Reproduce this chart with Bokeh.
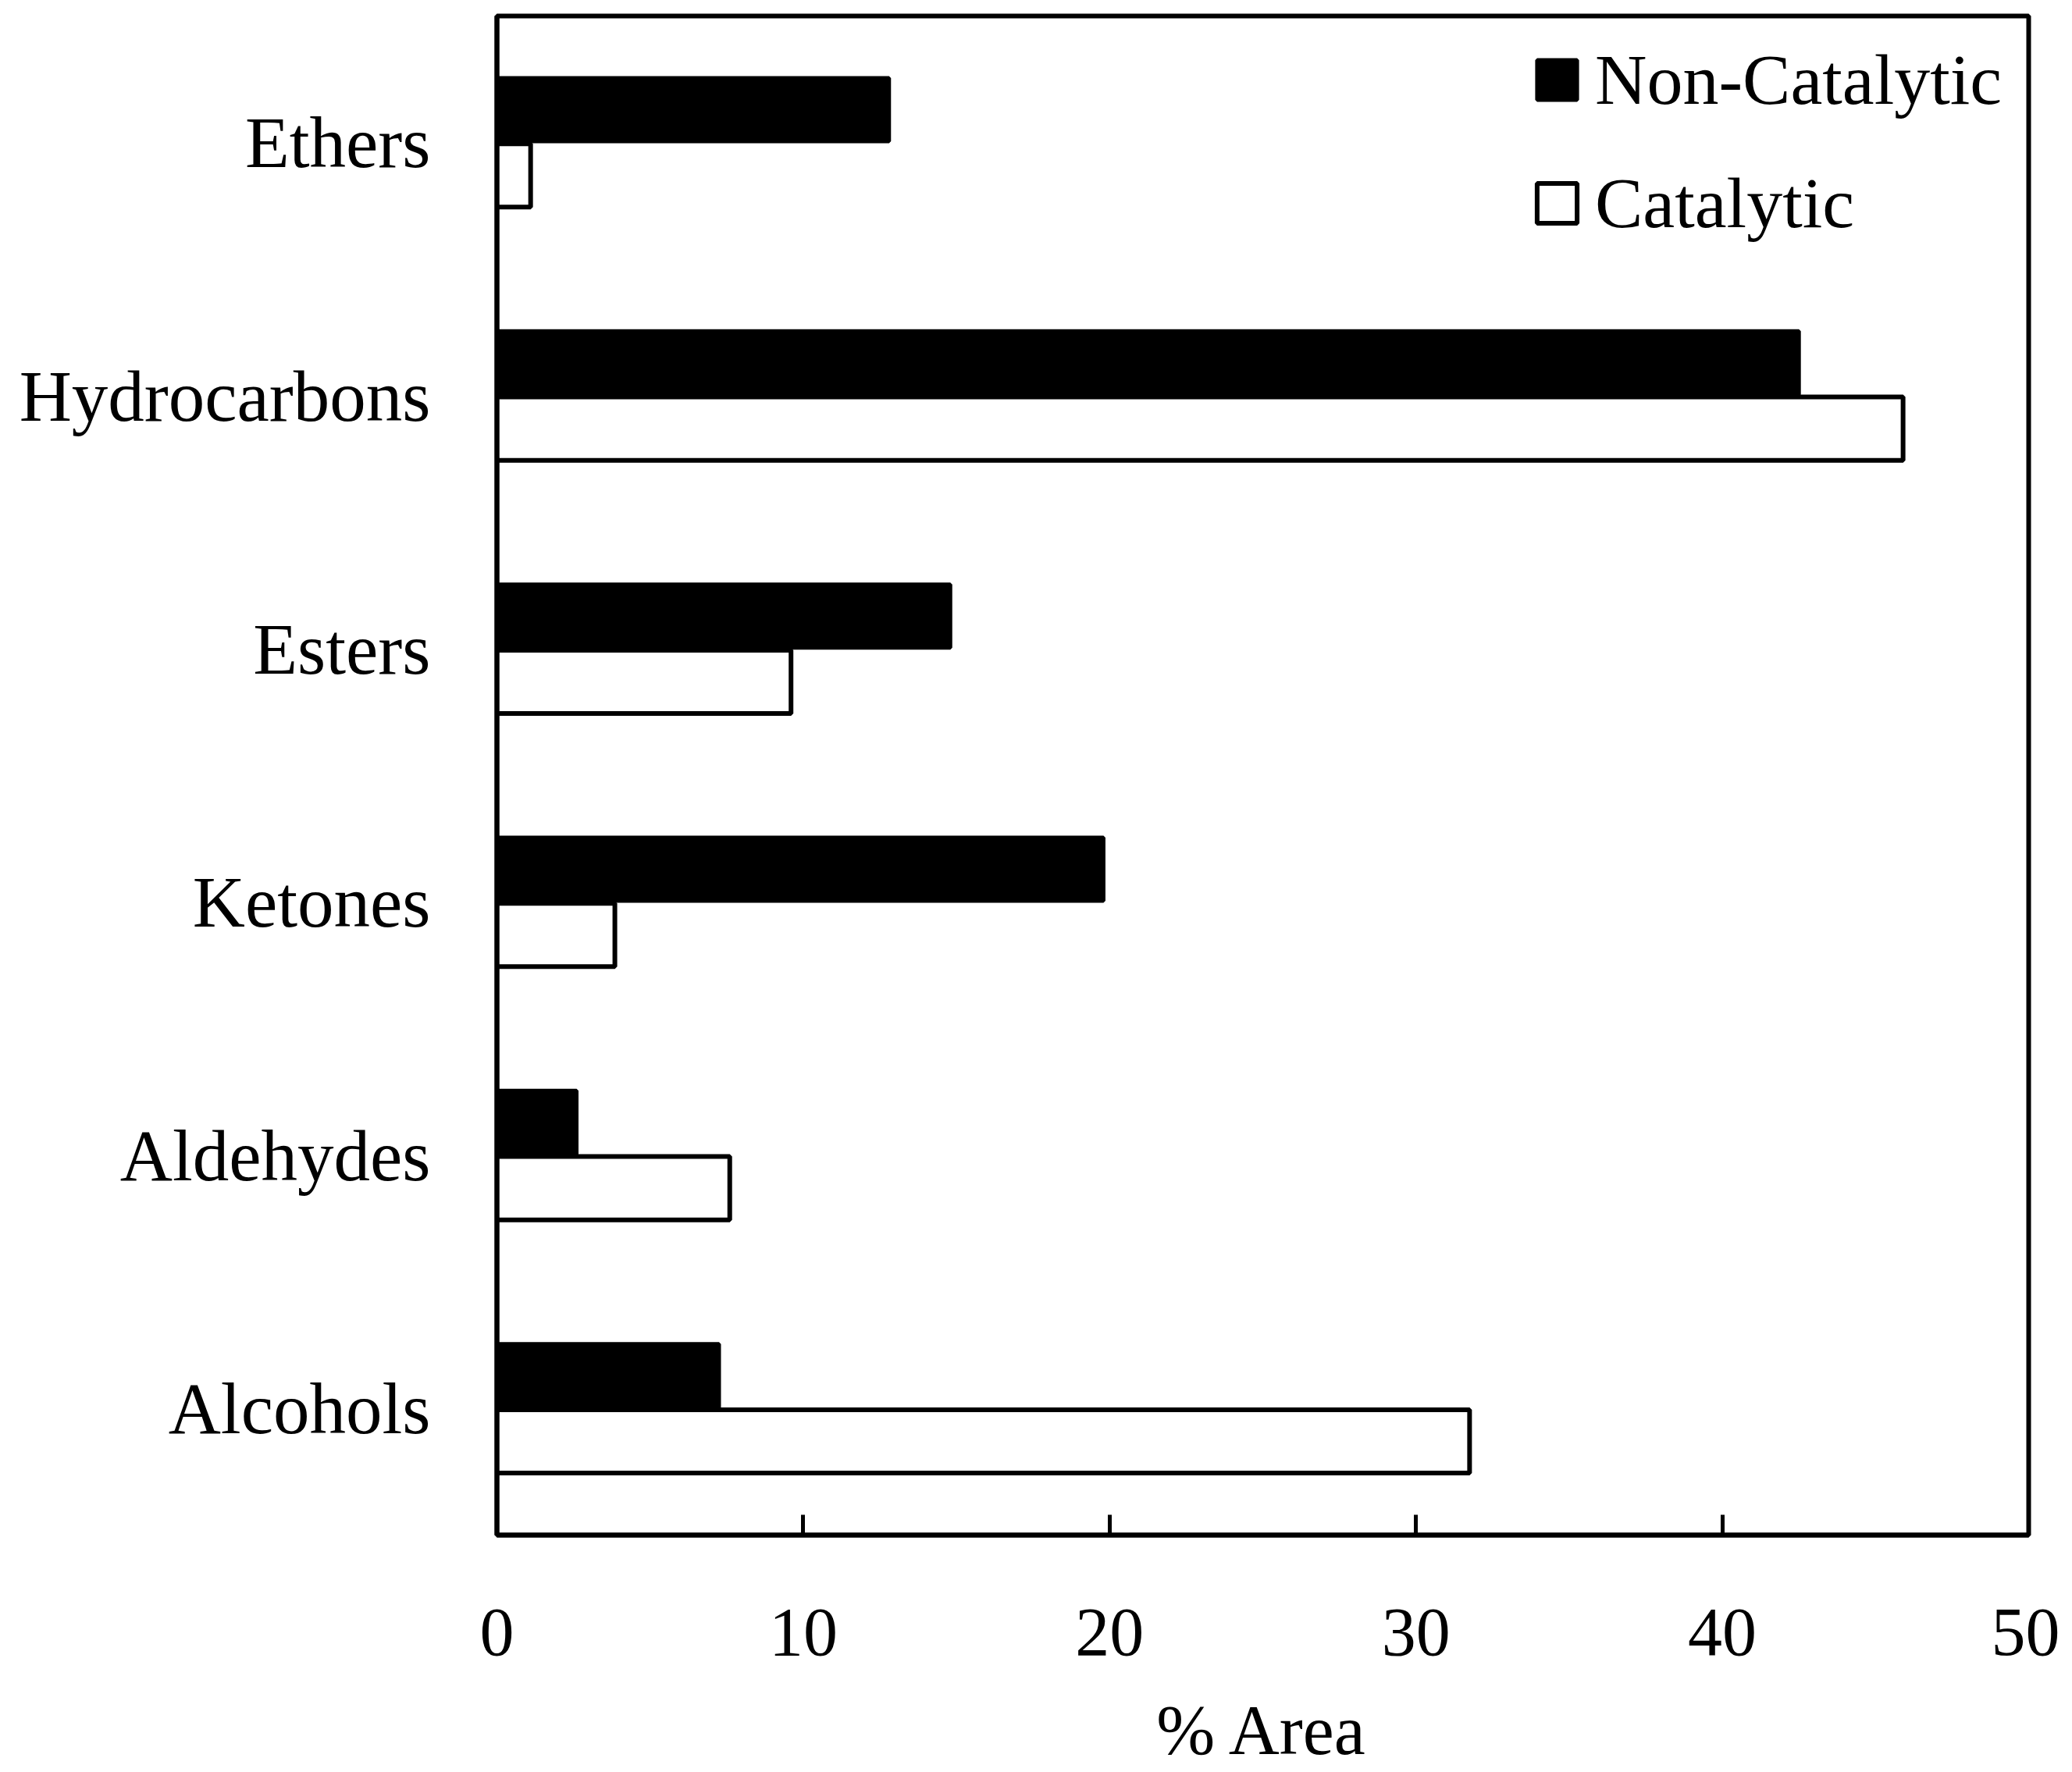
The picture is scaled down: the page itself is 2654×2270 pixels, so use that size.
from bokeh.plotting import figure
from bokeh.models import ColumnDataSource, FactorRange, Range1d, FixedTicker
from bokeh.transform import dodge
from bokeh.embed import file_html
from bokeh.resources import INLINE

categories = ["Alcohols", "Aldehydes", "Ketones", "Esters", "Hydrocarbons", "Ethers"]
non_catalytic = [7.25, 2.6, 19.8, 14.8, 42.5, 12.8]
catalytic = [31.75, 7.6, 3.85, 9.6, 45.9, 1.1]
x_ticks = [0, 10, 20, 30, 40, 50]

FONT = "Liberation Serif"

src = ColumnDataSource(dict(cat=categories, nc=non_catalytic, c=catalytic))

p = figure(width=2638, height=2268, y_range=FactorRange(factors=categories, range_padding=0),
           x_range=Range1d(0, 50), output_backend="svg", toolbar_location=None,
           min_border_left=636, min_border_right=40, min_border_top=20, min_border_bottom=300)

p.hbar(y=dodge("cat", 0.13, range=p.y_range), left=0, right="nc", height=0.25,
       fill_color="black", line_color="black", line_width=5, source=src,
       legend_label="Non-Catalytic")
p.hbar(y=dodge("cat", -0.13, range=p.y_range), left=0, right="c", height=0.25,
       fill_color="white", line_color="black", line_width=6, source=src,
       legend_label="Catalytic")

p.xgrid.visible = False
p.ygrid.visible = False
p.outline_line_color = "black"
p.outline_line_width = 6
p.background_fill_color = "white"
p.border_fill_color = "white"

xa = p.xaxis[0]
xa.ticker = FixedTicker(ticks=x_ticks)
xa.major_tick_in = 26
xa.major_tick_out = 0
xa.minor_tick_line_color = None
xa.major_tick_line_width = 5
xa.axis_line_width = 6
xa.axis_line_color = "black"
xa.major_label_text_font = FONT
xa.major_label_text_font_size = "88px"
xa.major_label_text_color = "black"
xa.major_label_standoff = 95
xa.axis_label = "% Area"
xa.axis_label_text_font = FONT
xa.axis_label_text_font_size = "90px"
xa.axis_label_text_font_style = "normal"
xa.axis_label_text_color = "black"
xa.axis_label_standoff = 44

ya = p.yaxis[0]
ya.major_tick_in = 0
ya.major_tick_out = 0
ya.minor_tick_line_color = None
ya.axis_line_width = 6
ya.axis_line_color = "black"
ya.major_label_text_font = FONT
ya.major_label_text_font_size = "93px"
ya.major_label_text_color = "black"
ya.major_label_standoff = 85

lg = p.legend[0]
lg.location = (1326, 1653)
lg.padding = 0
lg.margin = 0
lg.border_line_alpha = 0
lg.background_fill_alpha = 0
lg.label_text_font = FONT
lg.label_text_font_size = "92px"
lg.label_text_color = "black"
lg.glyph_width = 64
lg.glyph_height = 64
lg.label_standoff = 17
lg.label_height = 105
lg.spacing = 52

open("out.html", "w").write(file_html(p, INLINE))
